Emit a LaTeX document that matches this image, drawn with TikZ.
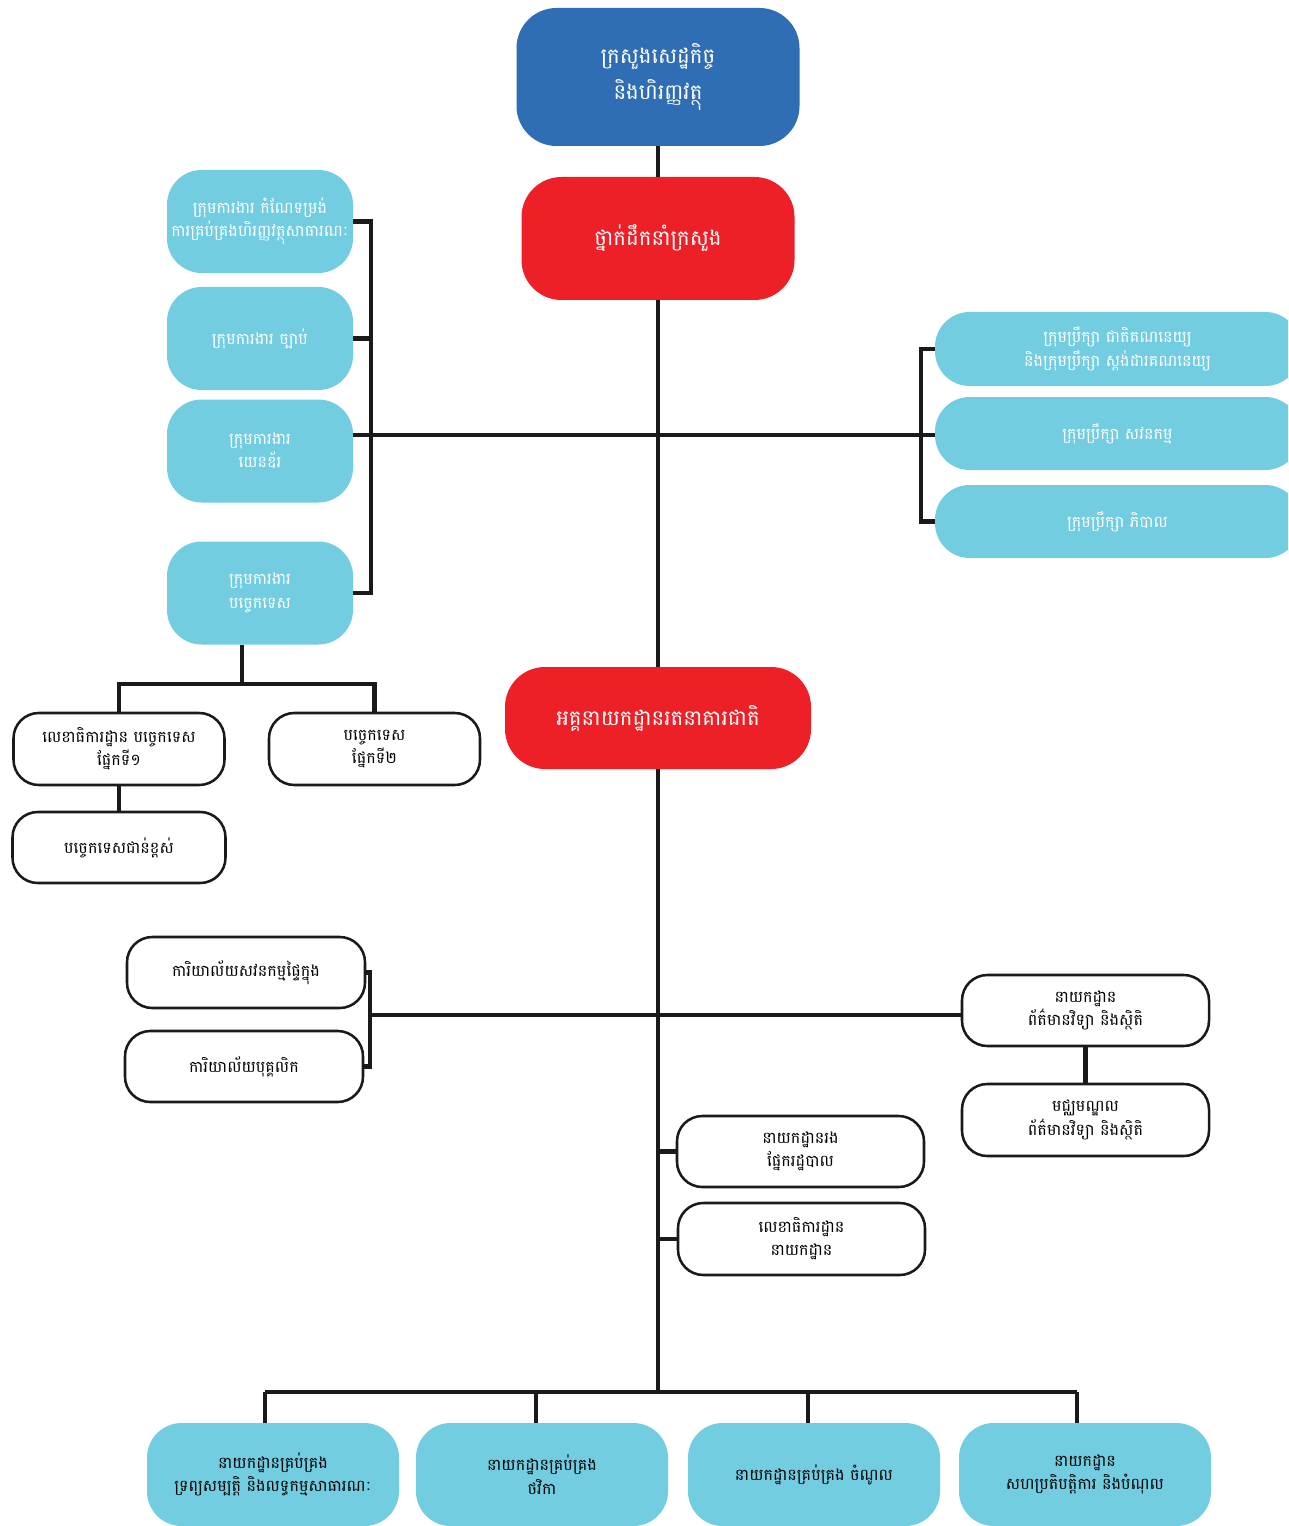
\documentclass[tikz,border=0pt]{standalone}
\usepackage{fontspec}
\newfontfamily\khmer[Script=Khmer]{Battambang}
\definecolor{topblue}{RGB}{47,110,181}
\definecolor{boxred}{RGB}{238,32,39}
\definecolor{lblue}{RGB}{115,205,225}
\definecolor{lineblk}{RGB}{26,26,26}
\tikzset{
  dim/.style 2 args={minimum width=#1*0.75pt, minimum height=#2*0.75pt},
  bx/.style={align=center, inner sep=0pt, font=\khmer\fontsize{12}{17.5}\selectfont},
  bigbox/.style={bx, fill=#1, text=white, rounded corners=30pt, font=\khmer\fontsize{16}{27}\selectfont},
  bluebox/.style={bx, fill=lblue, text=white, rounded corners=26pt},
  botbox/.style={bx, fill=lblue, text=black, rounded corners=26pt},
  whitebox/.style={bx, draw=lineblk, line width=1.9pt, fill=white, text=black, rounded corners=19pt},
  conn/.style={draw=lineblk, line width=3.6pt}
}
\begin{document}
\begin{tikzpicture}[x=0.75pt,y=-0.75pt]
\clip (0,0) rectangle (1288,1526);
\fill[white] (0,0) rectangle (1288,1526);

% junction coordinates
\coordinate (jL) at (371,435);
\coordinate (jR) at (921,435);
\coordinate (jL4) at (242,684);
\coordinate (jLW) at (370,1015);
\coordinate (jBus) at (658,1392);
\coordinate (bus1) at (265,1392);
\coordinate (bus2) at (536,1392);
\coordinate (bus3) at (808,1392);
\coordinate (bus4) at (1077,1392);

% top part nodes
\node[bigbox=topblue, dim={283}{138}] (top) at (658,77) {ក្រសួងសេដ្ឋកិច្ច\\និងហិរញ្ញវត្ថុ};
\node[bigbox=boxred, dim={273}{123}] (red1) at (658,238.5) {ថ្នាក់ដឹកនាំក្រសួង};

\node[bluebox, dim={186}{103}] (L1) at (260,221.5) {ក្រុមការងារ កំណែទម្រង់\\ការគ្រប់គ្រងហិរញ្ញវត្ថុសាធារណៈ};
\node[bluebox, dim={186}{103}] (L2) at (260,338.5) {ក្រុមការងារ ច្បាប់};
\node[bluebox, dim={186}{103}] (L3) at (260,451) {ក្រុមការងារ\\យេនឌ័រ};
\node[bluebox, dim={186}{103}] (L4) at (260,593) {ក្រុមការងារ\\បច្ចេកទេស};

\node[bluebox, dim={365}{74}] (R1) at (1117.5,349) {ក្រុមប្រឹក្សា ជាតិគណនេយ្យ\\និងក្រុមប្រឹក្សា ស្តង់ដារគណនេយ្យ};
\node[bluebox, dim={365}{73}] (R2) at (1117.5,433.5) {ក្រុមប្រឹក្សា សវនកម្ម};
\node[bluebox, dim={365}{73}] (R3) at (1117.5,521.5) {ក្រុមប្រឹក្សា ភិបាល};

\node[whitebox, dim={211}{72}] (LWa) at (119,749) {លេខាធិការដ្ឋាន បច្ចេកទេស\\ផ្នែកទី១};
\node[whitebox, dim={211}{72}] (LWb) at (374.5,749) {បច្ចេកទេស\\ផ្នែកទី២};
\node[whitebox, dim={213}{71}] (LWc) at (119,847.5) {បច្ចេកទេសជាន់ខ្ពស់};

\node[bigbox=boxred, dim={306}{102}] (red2) at (658,718) {អគ្គនាយកដ្ឋានរតនាគារជាតិ};

\node[whitebox, dim={238}{71}] (LW1) at (246,972.5) {ការិយាល័យសវនកម្មផ្ទៃក្នុង};
\node[whitebox, dim={238}{71}] (LW2) at (244,1066.5) {ការិយាល័យបុគ្គលិក};

\node[whitebox, dim={247}{71}] (RW1) at (1085.5,1010.5) {នាយកដ្ឋាន\\ព័ត៌មានវិទ្យា និងស្ថិតិ};
\node[whitebox, dim={247}{72}] (RW2) at (1085.5,1120) {មជ្ឈមណ្ឌល\\ព័ត៌មានវិទ្យា និងស្ថិតិ};

\node[whitebox, dim={247}{71}] (M1) at (800.5,1151.5) {នាយកដ្ឋានរង\\ផ្នែករដ្ឋបាល};
\node[whitebox, dim={247}{72}] (M2) at (801.5,1239) {លេខាធិការដ្ឋាន\\នាយកដ្ឋាន};

\node[botbox, dim={252}{103}] (B1) at (273,1474.5) {នាយកដ្ឋានគ្រប់គ្រង\\ទ្រព្យសម្បត្តិ និងលទ្ធកម្មសាធារណៈ};
\node[botbox, dim={252}{103}] (B2) at (542,1474.5) {នាយកដ្ឋានគ្រប់គ្រង\\ថវិកា};
\node[botbox, dim={252}{103}] (B3) at (814,1474.5) {នាយកដ្ឋានគ្រប់គ្រង ចំណូល};
\node[botbox, dim={252}{103}] (B4) at (1085,1474.5) {នាយកដ្ឋាន\\សហប្រតិបត្តិការ និងបំណុល};

% spine
\draw[conn] (top.south) -- (red1.north);
\draw[conn] (red1.south) -- (red2.north);
\draw[conn] (red2.south) -- (jBus);

% upper branches
\draw[conn] (L3.east |- jL) -- (jR);
\draw[conn] (L1.east) -| (jL) |- (L4.east);
\draw[conn] (L2.east) -- (L2.east -| jL);
\draw[conn] (R1.west) -| (jR) |- (R3.west);
\draw[conn] (jR) -- (R2.west |- jR);

% children of L4
\draw[conn] (L4.south -| jL4) -- (jL4);
\draw[conn] (LWa.north) |- (jL4) -| (LWb.north);
\draw[conn] (LWa.south) -- (LWc.north);

% lower branches
\draw[conn] (LW1.east) -| (jLW) |- (LW2.east);
\draw[conn] (jLW) -- (RW1.west |- jLW);
\draw[conn] (RW1.south) -- (RW2.north);
\draw[conn] (M1.west -| red2.south) -- (M1.west);
\draw[conn] (M2.west -| red2.south) -- (M2.west);

% bottom bus
\draw[conn] (bus1) -- (bus4);
\draw[conn] (bus1) -- (B1.north -| bus1);
\draw[conn] (bus2) -- (B2.north -| bus2);
\draw[conn] (bus3) -- (B3.north -| bus3);
\draw[conn] (bus4) -- (B4.north -| bus4);
\end{tikzpicture}
\end{document}
